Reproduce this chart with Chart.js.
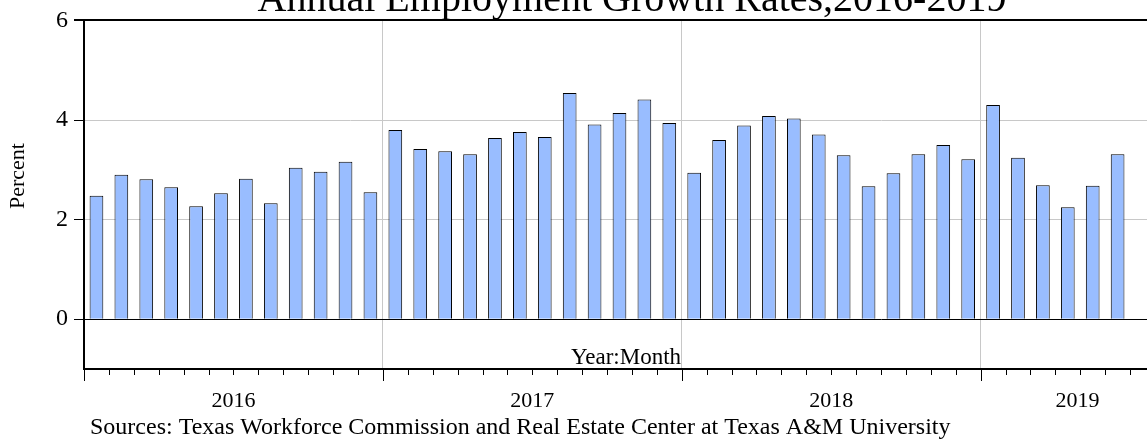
<!DOCTYPE html>
<html>
<head>
<meta charset="utf-8">
<script src="https://cdn.jsdelivr.net/npm/chart.js@4"></script>
<style>
body { margin: 0; background: #fff; }
canvas { display: block; }
</style>
</head>
<body>
<canvas id="chart" width="1147" height="442"></canvas>
<script>
// monthly data, Jan 2016 - Jun 2019
var years = ['2016', '2017', '2018', '2019'];
var monthsInYear = [12, 12, 12, 6];
var growth = [
    2.48, 2.90, 2.81, 2.65, 2.27, 2.53, 2.82, 2.33, 3.04, 2.96, 3.16, 2.55,
    3.80, 3.42, 3.37, 3.31, 3.64, 3.76, 3.66, 4.54, 3.91, 4.14, 4.41, 3.94,
    2.94, 3.60, 3.89, 4.08, 4.03, 3.71, 3.29, 2.67, 2.93, 3.31, 3.50, 3.21,
    4.30, 3.24, 2.69, 2.25, 2.68, 3.31
];
var yTicks = [0, 2, 4, 6];
var titleText = 'Annual Employment Growth Rates,2016-2019';
var yTitle = 'Percent';
var xTitle = 'Year:Month';
var sourceText = 'Sources: Texas Workforce Commission and Real Estate Center at Texas A&M University';

var serif = "'Liberation Serif', 'Times New Roman', serif";
var xMax = 42.68;

var points = growth.map(function (v, i) { return { x: i + 0.5, y: v }; });

var extras = {
    id: 'extras',
    afterDraw: function (chart) {
        var ctx = chart.ctx;
        var xs = chart.scales.x;
        var area = chart.chartArea;
        ctx.save();
        // month ticks below the axis
        ctx.strokeStyle = '#000';
        ctx.lineWidth = 1;
        for (var m = 0; m <= growth.length; m++) {
            var px = Math.round(xs.getPixelForValue(m)) + 0.5;
            var len = (m % 12 === 0) ? 12 : 6;
            ctx.beginPath();
            ctx.moveTo(px, area.bottom);
            ctx.lineTo(px, area.bottom + len);
            ctx.stroke();
        }
        ctx.fillStyle = '#000';
        ctx.textAlign = 'center';
        ctx.textBaseline = 'middle';
        // year labels
        ctx.font = '22px ' + serif;
        var start = 0;
        years.forEach(function (y, i) {
            var half = Math.min(6, (xMax + 1.1 - start) / 2);
            ctx.fillText(y, xs.getPixelForValue(start + half), 401);
            start += monthsInYear[i];
        });
        // axis titles
        ctx.font = '23px ' + serif;
        ctx.textBaseline = 'alphabetic';
        ctx.fillText(xTitle, 626, 364);
        ctx.save();
        ctx.translate(24, 176);
        ctx.rotate(-Math.PI / 2);
        ctx.font = '22px ' + serif;
        ctx.fillText(yTitle, 0, 0);
        ctx.restore();
        // title and sources
        ctx.font = '40px ' + serif;
        ctx.fillText(titleText, 632, 11);
        ctx.font = '24px ' + serif;
        ctx.textAlign = 'left';
        ctx.fillText(sourceText, 90, 434);
        ctx.restore();
    }
};

new Chart(document.getElementById('chart'), {
    type: 'bar',
    data: {
        datasets: [{
            label: 'Growth',
            data: points,
            backgroundColor: '#99bdff',
            borderColor: '#000',
            borderWidth: 1,
            barPercentage: 0.55,
            categoryPercentage: 1
        }]
    },
    options: {
        responsive: false,
        animation: false,
        layout: { padding: { top: 15, left: 0, right: 0, bottom: 0 } },
        plugins: {
            legend: { display: false },
            tooltip: { enabled: false }
        },
        scales: {
            x: {
                type: 'linear',
                offset: false,
                min: 0,
                max: xMax,
                afterBuildTicks: function (s) {
                    s.ticks = [12, 24, 36].map(function (v) { return { value: v }; });
                },
                afterFit: function (s) { s.height = 73; },
                ticks: { display: false },
                grid: {
                    offset: false,
                    color: '#c8c8c8',
                    lineWidth: 1,
                    drawTicks: false
                },
                border: { color: '#000', width: 2 }
            },
            y: {
                min: -1,
                max: 6,
                afterBuildTicks: function (s) {
                    s.ticks = yTicks.map(function (v) { return { value: v }; });
                },
                afterFit: function (s) { s.width = 84; },
                ticks: {
                    color: '#000',
                    padding: 6,
                    font: { family: serif, size: 24 }
                },
                grid: {
                    tickLength: 10,
                    tickColor: '#000',
                    color: function (c) {
                        var v = c.tick.value;
                        return (v === 0 || v === 6) ? '#000' : '#c8c8c8';
                    },
                    lineWidth: function (c) {
                        return c.tick.value === 6 ? 2 : 1;
                    }
                },
                border: { color: '#000', width: 2 }
            }
        }
    },
    plugins: [extras]
});
</script>
</body>
</html>
